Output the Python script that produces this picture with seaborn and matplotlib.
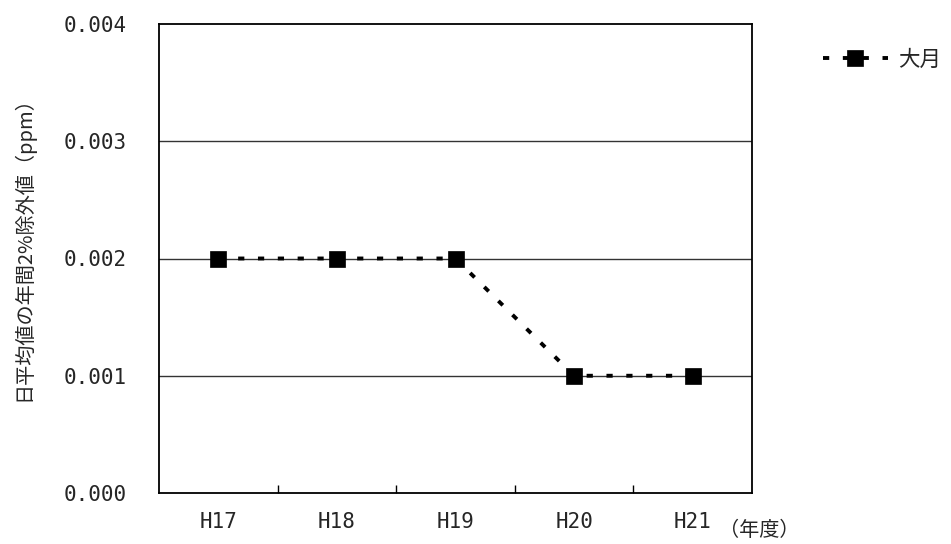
import matplotlib
matplotlib.use("Agg")
import matplotlib.pyplot as plt
import seaborn as sns
import pandas as pd
from matplotlib.ticker import FixedLocator, NullFormatter

categories = ["H17", "H18", "H19", "H20", "H21"]
values = [0.002, 0.002, 0.002, 0.001, 0.001]
series_name = "大月"
yticks = [0.000, 0.001, 0.002, 0.003, 0.004]

sns.set_theme(style="white")
plt.rcParams['font.family'] = ['Noto Sans CJK JP', 'DejaVu Sans']

df = pd.DataFrame({"pos": range(len(categories)), "val": values, "site": series_name})

fig = plt.figure(figsize=(9.51, 5.44), dpi=100)
ax = fig.add_axes([159/951, 51/544, 593/951, 469/544])

for v in yticks[1:-1]:
    ax.axhline(v, color="#333333", linewidth=1.0, zorder=0)

sns.lineplot(data=df, x="pos", y="val", hue="site", palette=["black"],
             marker="s", markersize=12, markeredgecolor="black", markeredgewidth=0.5,
             linestyle=(0, (1.6, 3.5)), linewidth=2.8, ax=ax, legend=True, zorder=3)

ax.set_xlim(-0.5, len(categories) - 0.5)
ax.set_ylim(0, 0.004)
ax.set_yticks(yticks)
ax.set_yticklabels([f"{v:.3f}" for v in yticks], fontsize=15, family="DejaVu Sans Mono")
ax.tick_params(axis="y", length=0, pad=23)

ax.xaxis.set_major_locator(FixedLocator([i + 0.5 for i in range(len(categories) - 1)]))
ax.xaxis.set_major_formatter(NullFormatter())
ax.xaxis.set_minor_locator(FixedLocator(list(range(len(categories)))))
ax.set_xticklabels(categories, minor=True, fontsize=15, family="DejaVu Sans Mono")
ax.tick_params(axis="x", which="major", direction="in", length=6, width=1.0, color="black", bottom=True)
ax.tick_params(axis="x", which="minor", length=0, pad=14)

for s in ax.spines.values():
    s.set_color("black")
    s.set_linewidth(1.3)

ax.set_xlabel("")
ax.set_ylabel("")
fig.text(23/951, 1 - 244/544, "日平均値の年間2%除外値（ppm）", rotation=90,
         ha="center", va="center", fontsize=14.5)
fig.text(719/951, 1 - 530/544, "（年度）", ha="left", va="center", fontsize=14.5)

leg = ax.legend(loc="center left", bbox_to_anchor=(823/951, 1 - 60/544),
                bbox_transform=fig.transFigure, frameon=False, fontsize=15.5,
                handlelength=3.0, handletextpad=0.5, borderaxespad=0, borderpad=0)

fig.savefig("out.png", dpi=100)
